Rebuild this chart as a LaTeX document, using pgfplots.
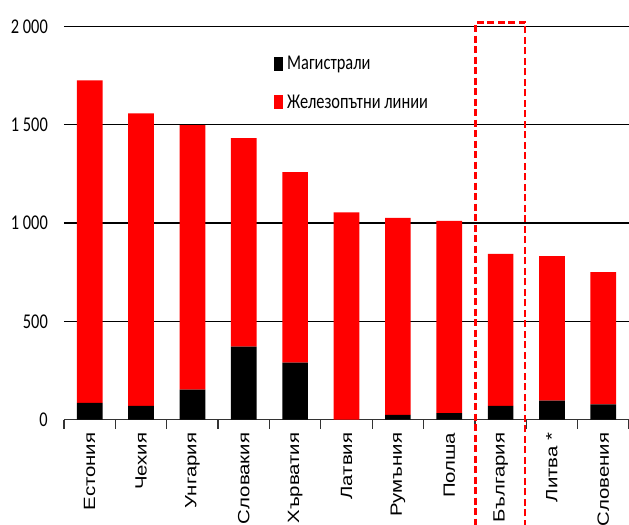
\documentclass[border=0pt]{standalone}
\usepackage{pgfplots}
\pgfplotsset{compat=1.18}
\usepackage{fontspec}
\setmainfont{Carlito}
\newfontfamily\tickfont[FakeStretch=0.78]{Carlito}
\newfontfamily\xfont[FakeStretch=1.25]{Liberation Sans}
\begin{document}
\begin{tikzpicture}
\path[use as bounding box] (-64bp,-105.5bp) rectangle (565bp,419.5bp);
\begin{axis}[
  at={(0,0)}, anchor=south west,
  scale only axis, width=565bp, height=392.8bp,
  xmin=-0.5, xmax=10.5, ymin=0, ymax=2000,
  ybar stacked, bar width=0.5,
  clip=false,
  axis x line*=bottom, axis y line*=left,
  y axis line style={draw=none},
  x axis line style={draw=black!80, line width=1.2bp},
  ymajorgrids, grid style={black, line width=1.2bp},
  ytick={0,500,1000,1500,2000},
  yticklabels={0,500,1\ 000,1\ 500,2\ 000},
  y tick style={draw=none},
  yticklabel style={font=\tickfont\fontsize{21bp}{24bp}\selectfont, inner sep=0pt, anchor=east, xshift=-16bp},
  xtick={0,...,10},
  xticklabels={Естония,Чехия,Унгария,Словакия,Хърватия,Латвия,Румъния,Полша,България,Литва *,Словения},
  major x tick style={draw=none},
  minor xtick={-0.5,0.5,1.5,2.5,3.5,4.5,5.5,6.5,7.5,8.5,9.5,10.5},
  minor x tick style={draw=black!80, line width=1.2bp},
  minor tick length=9bp, major tick length=0pt,
  tick align=outside,
  xticklabel style={rotate=90, anchor=east, inner sep=0pt, xshift=-13bp, font=\xfont\fontsize{16.3bp}{18bp}\selectfont},
  legend style={draw=none, fill=none, at={(0.3717,0.9254)}, anchor=north west,
    inner sep=0pt, row sep=23.5bp, column sep=4bp,
    font=\tickfont\fontsize{21bp}{24bp}\selectfont,
    nodes={inner sep=0pt}},
  legend cell align=left,
  legend image code/.code={\fill[#1] (0bp,-7bp) rectangle (9bp,7bp);},
]
\addplot[fill=black, draw=none] coordinates {(0,85) (1,70) (2,152) (3,371) (4,289) (5,0) (6,23) (7,32) (8,70) (9,96) (10,77)};
\addplot[fill=red, draw=none] coordinates {(0,1642) (1,1489) (2,1347) (3,1062) (4,970) (5,1055) (6,1003) (7,979) (8,773) (9,736) (10,674)};
\legend{Магистрали, Железопътни линии}
\draw[red, line width=2.5bp, dash pattern=on 7bp off 3.5bp]
  (axis cs:8.476,-600) -- (axis cs:8.476,2022) -- (axis cs:7.516,2022) -- (axis cs:7.516,-600);
\end{axis}
\end{tikzpicture}
\end{document}
